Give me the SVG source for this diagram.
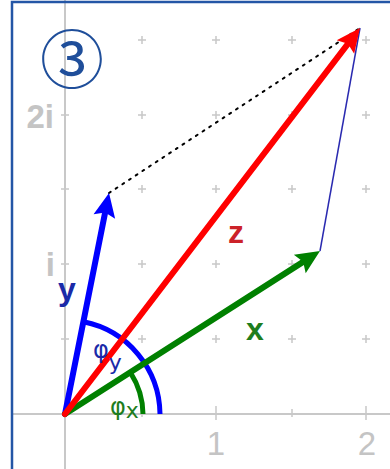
<svg xmlns="http://www.w3.org/2000/svg" width="390" height="469" viewBox="0 0 390 469">
<style>
.grid{stroke:#c8c8c8;stroke-width:1.5;fill:none}
.axis{stroke:#c8c8c8;stroke-width:2;fill:none}
.albl{font-family:"Liberation Sans",Arial,sans-serif;font-size:33px;fill:#c4c4c4}
.vec{stroke-width:6;fill:none;stroke-linecap:round}
.lbl{font-family:"Liberation Sans",Arial,sans-serif;font-size:32px;font-weight:bold}
.ang{font-family:"DejaVu Sans","Liberation Sans",sans-serif;font-size:24px}
</style>
<defs>
<marker id="hr" viewBox="-12 -14 30 28" refX="0" refY="0" markerWidth="30" markerHeight="28" markerUnits="userSpaceOnUse" orient="auto"><path d="M14,0 L-10,-11 L-6,0 L-10,11 z" fill="#ff0000"/></marker>
<marker id="hg" viewBox="-12 -14 30 28" refX="0" refY="0" markerWidth="30" markerHeight="28" markerUnits="userSpaceOnUse" orient="auto"><path d="M14,0 L-10,-11 L-6,0 L-10,11 z" fill="#008000"/></marker>
<marker id="hb" viewBox="-12 -14 30 28" refX="0" refY="0" markerWidth="30" markerHeight="28" markerUnits="userSpaceOnUse" orient="auto"><path d="M14,0 L-10,-11 L-6,0 L-10,11 z" fill="#0000ff"/></marker>
</defs>
<rect x="0" y="0" width="390" height="469" fill="#ffffff"/>
<g id="grid">
<line class="axis" x1="65" y1="0" x2="65" y2="469"/>
<line class="axis" x1="11" y1="414" x2="390" y2="414"/>
<path class="grid" d="M138,40h8M142,36v8M138,115h8M142,111v8M138,189h8M142,185v8M138,264h8M142,260v8M138,339h8M142,335v8
M212,40h8M216,36v8M212,115h8M216,111v8M212,189h8M216,185v8M212,264h8M216,260v8M212,339h8M216,335v8
M288,40h8M292,36v8M288,115h8M292,111v8M288,189h8M292,185v8M288,264h8M292,260v8M288,339h8M292,335v8
M362,40h8M366,36v8M362,115h8M366,111v8M362,189h8M366,185v8M362,264h8M366,260v8M362,339h8M366,335v8
M61,115h8M61,189h8M61,264h8M61,339h8M216,406v14M292,409v8M366,406v14M142,409v8"/>
<text class="albl" x="54" y="128" text-anchor="end" font-weight="bold" font-size="31">2i</text>
<text class="albl" x="55" y="276" text-anchor="end" font-weight="bold">i</text>
<text class="albl" x="216" y="455" text-anchor="middle">1</text>
<text class="albl" x="367" y="455" text-anchor="middle">2</text>
</g>
<g id="frame"><path d="M12,469 V2 H390" fill="none" stroke="#2456a6" stroke-width="2.5"/></g>
<g id="connectors">
<line x1="109" y1="193" x2="360" y2="28" stroke="#000" stroke-width="2" stroke-dasharray="2,6" stroke-linecap="round"/>
<line x1="320" y1="251" x2="360" y2="28" stroke="#2a2ab0" stroke-width="1.5"/>
<path d="M160,414 A95,95 0 0,0 83.5,321.8" fill="none" stroke="#0000ff" stroke-width="5"/>
<path d="M143,414 A78,78 0 0,0 130.6,372.8" fill="none" stroke="#008000" stroke-width="5"/>
<line class="vec" x1="65" y1="414" x2="106.3" y2="206.7" stroke="#0000ff" marker-end="url(#hb)"/>
<line class="vec" x1="65" y1="414" x2="308.2" y2="258.6" stroke="#008000" marker-end="url(#hg)"/>
<line class="vec" x1="65" y1="414" x2="351.5" y2="39.1" stroke="#ff0000" marker-end="url(#hr)"/>
</g>
<g id="labels">
<text class="lbl" x="228" y="243" fill="#cc2229">z</text>
<text class="lbl" x="246" y="340" fill="#1e7d1e">x</text>
<text class="lbl" x="58" y="300" fill="#1a2aa8">y</text>
<text class="ang" x="93" y="358" fill="#1a2aa8">φ<tspan font-size="22" dy="12">y</tspan></text>
<text class="ang" x="110" y="415" fill="#1e7d1e">φ<tspan font-size="22" dy="3">x</tspan></text>
</g>
<g id="badge"><text x="72" y="83" text-anchor="middle" font-family="'Noto Sans CJK JP','DejaVu Sans',sans-serif" font-size="64" fill="#1f4e9a">③</text></g>
</svg>
